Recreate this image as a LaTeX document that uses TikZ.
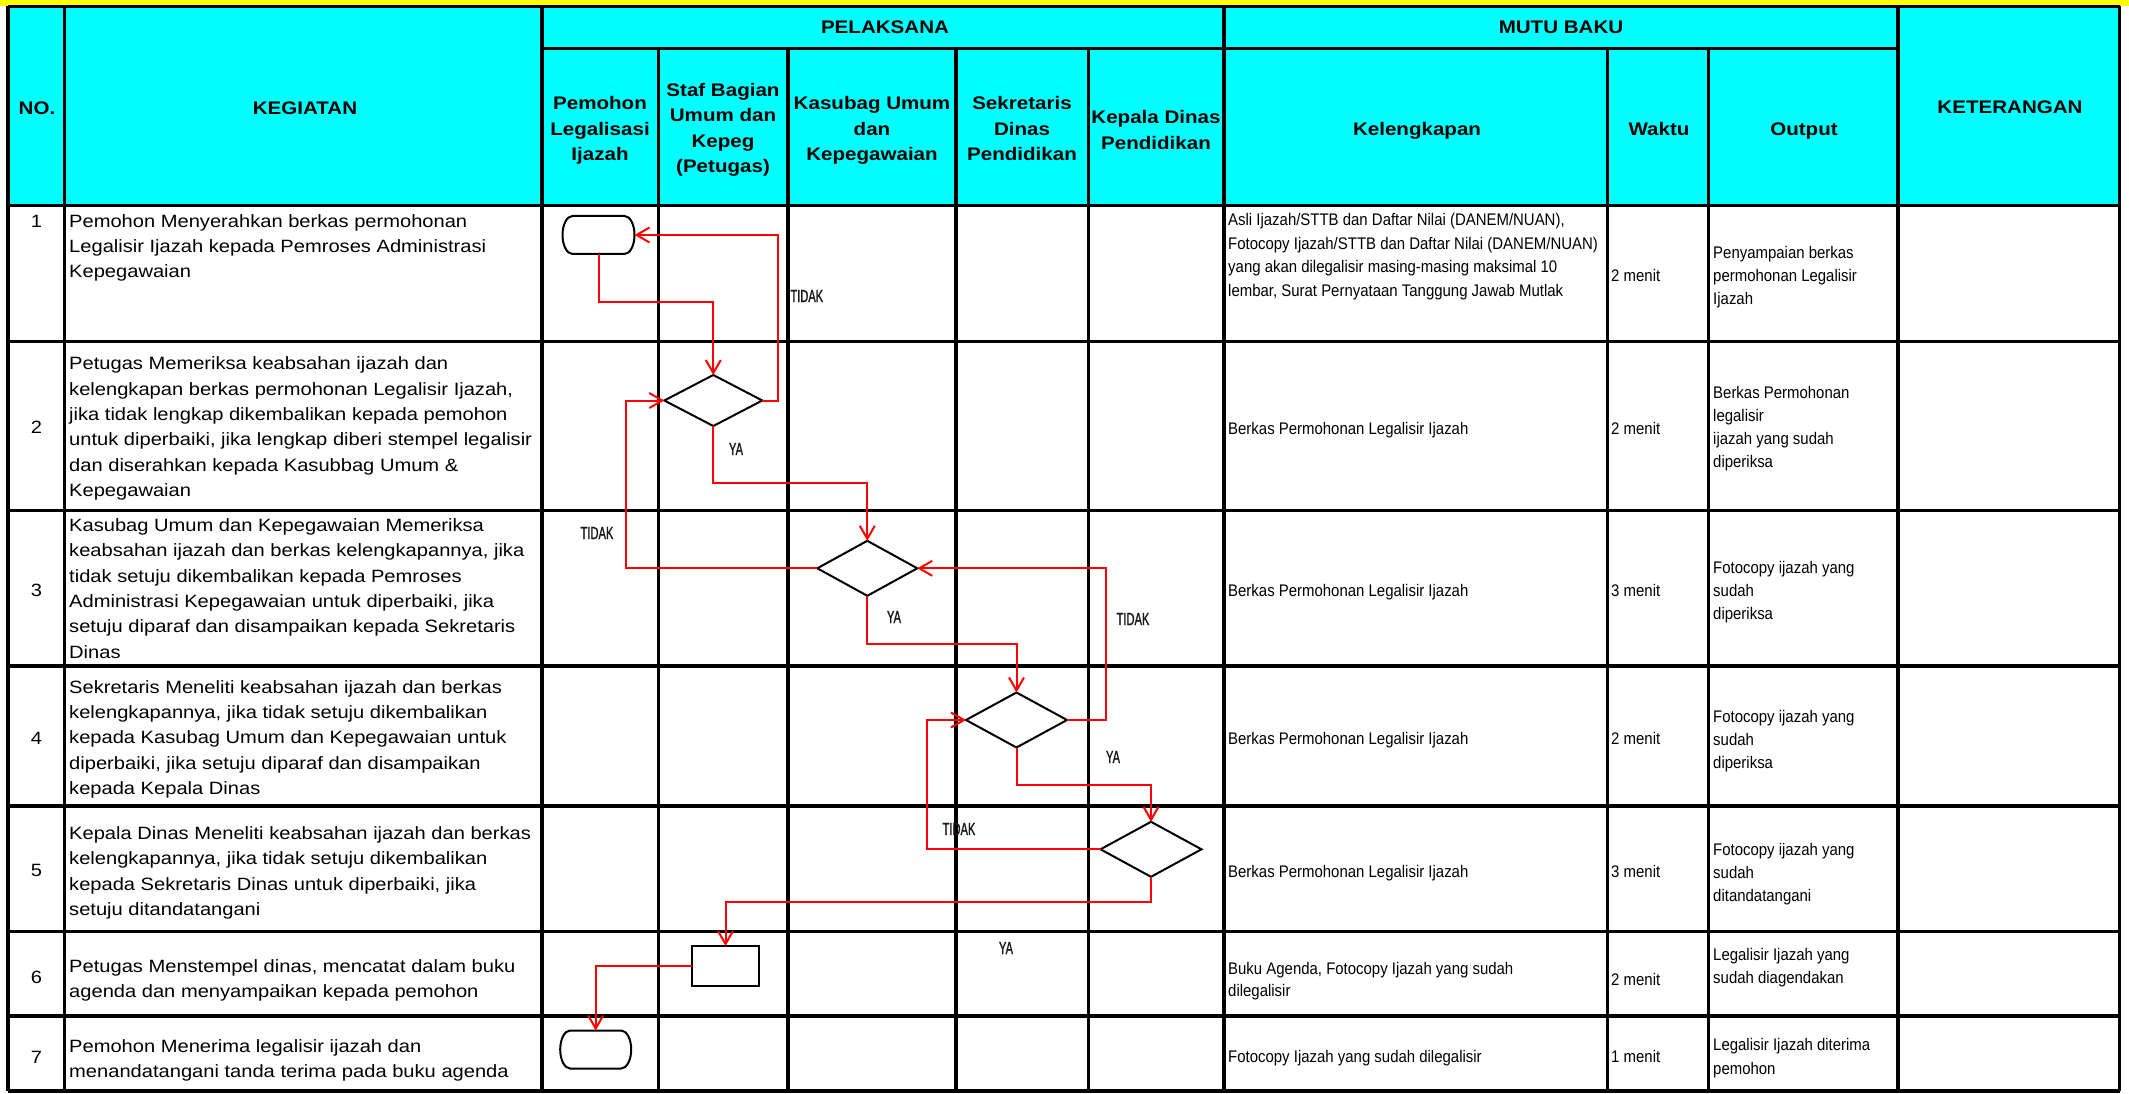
\documentclass[tikz,border=0pt]{standalone}
\usepackage{fontspec}
\setmainfont{Liberation Sans}
\newfontfamily\bodyf[FakeStretch=1.13]{Liberation Sans}
\newfontfamily\smallf[FakeStretch=0.89]{Liberation Sans}
\newfontfamily\condf[FakeStretch=0.63,FakeBold=1.2]{Liberation Sans}
\usetikzlibrary{shapes.geometric,arrows.meta}
\definecolor{hcyan}{HTML}{00FFFF}
\definecolor{hyellow}{HTML}{FFFF00}
\definecolor{flowred}{HTML}{FF0000}
\newcommand{\termoutline}[1]{\draw[line width=2pt] ([xshift=10pt]#1.north west) -- ([xshift=-10pt]#1.north east) arc[start angle=90,end angle=-90,x radius=10pt,y radius=19pt] -- ([xshift=10pt]#1.south west) arc[start angle=270,end angle=90,x radius=10pt,y radius=19pt] -- cycle;}
\tikzset{
  gridline/.style={line width=3.5pt},
  hdr/.style={font=\bodyf\bfseries\fontsize{18.2}{25.6}\selectfont, align=center, anchor=north, inner sep=0pt},
  keg/.style={font=\bodyf\fontsize{17.8}{25.3}\selectfont, align=left, anchor=north west, inner sep=0pt},
  num/.style={font=\bodyf\fontsize{17.8}{25.3}\selectfont, anchor=north, inner sep=0pt},
  sm/.style={font=\smallf\fontsize{16.8}{23.5}\selectfont, align=left, anchor=north west, inner sep=0pt},
  outp/.style={font=\smallf\fontsize{16.8}{23}\selectfont, align=left, anchor=north west, inner sep=0pt},
  lbl/.style={font=\condf\fontsize{17.7}{20}\selectfont, text=black!90, inner sep=0pt},
  dia/.style={diamond, draw, line width=2pt, inner sep=0pt, outer sep=0pt, minimum width=100pt, minimum height=55pt},
  term/.style={rectangle, inner sep=0pt, outer sep=0pt, minimum width=72pt, minimum height=38pt},
  procbox/.style={rectangle, draw, line width=2pt, inner sep=0pt, outer sep=0pt, minimum width=67pt, minimum height=40pt},
  flow/.style={draw=flowred, line width=2pt, -{Straight Barb[length=13pt,width=15pt]}}
}
\begin{document}
\begin{tikzpicture}[x=1pt,y=-1pt]
\useasboundingbox (0,0) rectangle (2129,1094);
% backgrounds
\fill[hyellow] (0,0) rectangle (2129,6.5);
\fill[hcyan] (8,6.5) rectangle (2119.5,205.7);
% horizontal grid lines
\foreach \yy in {6.5,205.7,341.7,510.5,665.8,806,931.7,1015.8,1091}
  \draw[gridline] (8,\yy) -- (2119.5,\yy);
\draw[gridline] (542,48.3) -- (1898,48.3);
% vertical grid lines
\foreach \xx in {8,64.7,542,1224,1898,2119.5}
  \draw[gridline] (\xx,6.5) -- (\xx,1091);
\foreach \xx in {658.5,788,955.8,1088.5,1607.5,1708.5}
  \draw[gridline] (\xx,48.3) -- (\xx,1091);

% header texts
\node[hdr] (hno) at (37,96.3) {\strut NO.\strut};
\node[hdr] (hkeg) at (305,96.3) {\strut KEGIATAN\strut};
\node[hdr] (hpel) at (885,15.3) {\strut PELAKSANA\strut};
\node[hdr] (hmutu) at (1561,15.3) {\strut MUTU BAKU\strut};
\node[hdr] (hket) at (2010,95.3) {\strut KETERANGAN\strut};
\node[hdr] (hpem) at (600,91.6) {\strut Pemohon\\Legalisasi\\Ijazah\strut};
\node[hdr] (hstaf) at (723,77.9) {\strut Staf Bagian\\Umum dan\\Kepeg\\(Petugas)\strut};
\node[hdr] (hkas) at (872,91.6) {\strut Kasubag Umum\\dan\\Kepegawaian\strut};
\node[hdr] (hsek) at (1022,91.6) {\strut Sekretaris\\Dinas\\Pendidikan\strut};
\node[hdr] (hkep) at (1156,105.3) {\strut Kepala Dinas\\Pendidikan\strut};
\node[hdr] (hkel) at (1417,116.9) {\strut Kelengkapan\strut};
\node[hdr] (hwak) at (1659,116.9) {\strut Waktu\strut};
\node[hdr] (hout) at (1804,116.9) {\strut Output\strut};

% numbers
\node[num] (n1) at (36.5,209.4) {\strut 1\strut};
\node[num] (n2) at (36.5,415.4) {\strut 2\strut};
\node[num] (n3) at (36.5,578.7) {\strut 3\strut};
\node[num] (n4) at (36.5,726.4) {\strut 4\strut};
\node[num] (n5) at (36.5,858.7) {\strut 5\strut};
\node[num] (n6) at (36.5,965.4) {\strut 6\strut};
\node[num] (n7) at (36.5,1045.4) {\strut 7\strut};

% kegiatan
\node[keg] (k1) at (69,209.4) {\strut Pemohon Menyerahkan berkas permohonan\\Legalisir Ijazah kepada Pemroses Administrasi\\Kepegawaian\strut};
\node[keg] (k2) at (69,352) {\strut Petugas Memeriksa keabsahan ijazah dan\\kelengkapan berkas permohonan Legalisir Ijazah,\\jika tidak lengkap dikembalikan kepada pemohon\\untuk diperbaiki, jika lengkap diberi stempel legalisir\\dan diserahkan kepada Kasubbag Umum \&\\Kepegawaian\strut};
\node[keg] (k3) at (69,513.7) {\strut Kasubag Umum dan Kepegawaian Memeriksa\\keabsahan ijazah dan berkas kelengkapannya, jika\\tidak setuju dikembalikan kepada Pemroses\\Administrasi Kepegawaian untuk diperbaiki, jika\\setuju diparaf dan disampaikan kepada Sekretaris\\Dinas\strut};
\node[keg] (k4) at (69,675.4) {\strut Sekretaris Meneliti keabsahan ijazah dan berkas\\kelengkapannya, jika tidak setuju dikembalikan\\kepada Kasubag Umum dan Kepegawaian untuk\\diperbaiki, jika setuju diparaf dan disampaikan\\kepada Kepala Dinas\strut};
\node[keg] (k5) at (69,821.7) {\strut Kepala Dinas Meneliti keabsahan ijazah dan berkas\\kelengkapannya, jika tidak setuju dikembalikan\\kepada Sekretaris Dinas untuk diperbaiki, jika\\setuju ditandatangani\strut};
\node[keg] (k6) at (69,954.1) {\strut Petugas Menstempel dinas, mencatat dalam buku\\agenda dan menyampaikan kepada pemohon\strut};
\node[keg] (k7) at (69,1034.4) {\strut Pemohon Menerima legalisir ijazah dan\\menandatangani tanda terima pada buku agenda\strut};

% kelengkapan
\node[sm] (l1) at (1228,208.9) {\strut Asli Ijazah/STTB dan Daftar Nilai (DANEM/NUAN),\\Fotocopy Ijazah/STTB dan Daftar Nilai (DANEM/NUAN)\\yang akan dilegalisir masing-masing maksimal 10\\lembar, Surat Pernyataan Tanggung Jawab Mutlak\strut};
\node[sm] (l2) at (1228,417.9) {\strut Berkas Permohonan Legalisir Ijazah\strut};
\node[sm] (l3) at (1228,579.6) {\strut Berkas Permohonan Legalisir Ijazah\strut};
\node[sm] (l4) at (1228,727.9) {\strut Berkas Permohonan Legalisir Ijazah\strut};
\node[sm] (l5) at (1228,860.6) {\strut Berkas Permohonan Legalisir Ijazah\strut};
\node[sm, font=\smallf\fontsize{16.8}{22}\selectfont] (l6) at (1228,958.9) {\strut Buku Agenda, Fotocopy Ijazah yang sudah\\dilegalisir\strut};
\node[sm] (l7) at (1228,1046.3) {\strut Fotocopy Ijazah yang sudah dilegalisir\strut};

% waktu
\node[sm] (w1) at (1611,264.6) {\strut 2 menit\strut};
\node[sm] (w2) at (1611,417.9) {\strut 2 menit\strut};
\node[sm] (w3) at (1611,579.6) {\strut 3 menit\strut};
\node[sm] (w4) at (1611,727.9) {\strut 2 menit\strut};
\node[sm] (w5) at (1611,860.6) {\strut 3 menit\strut};
\node[sm] (w6) at (1611,968.6) {\strut 2 menit\strut};
\node[sm] (w7) at (1611,1046.3) {\strut 1 menit\strut};

% output
\node[outp] (o1) at (1713,242.2) {\strut Penyampaian berkas\\permohonan Legalisir\\Ijazah\strut};
\node[outp] (o2) at (1713,382.2) {\strut Berkas Permohonan\\legalisir\\ijazah yang sudah\\diperiksa\strut};
\node[outp] (o3) at (1713,557.6) {\strut Fotocopy ijazah yang\\sudah\\diperiksa\strut};
\node[outp] (o4) at (1713,706.6) {\strut Fotocopy ijazah yang\\sudah\\diperiksa\strut};
\node[outp] (o5) at (1713,838.9) {\strut Fotocopy ijazah yang\\sudah\\ditandatangani\strut};
\node[outp] (o6) at (1713,944.2) {\strut Legalisir Ijazah yang\\sudah diagendakan\strut};
\node[outp, font=\smallf\fontsize{16.8}{24}\selectfont] (o7) at (1713,1033.5) {\strut Legalisir Ijazah diterima\\pemohon\strut};

% flow shapes
\node[term] (t1) at (598.5,235) {};
\termoutline{t1}
\node[dia, minimum width=98pt, minimum height=51pt] (d1) at (713.3,400.5) {};
\node[dia] (d2) at (867.3,568.3) {};
\node[dia, minimum width=101pt] (d3) at (1016.5,720) {};
\node[dia, minimum width=101pt] (d4) at (1151,849.3) {};
\node[procbox] (b6) at (725.5,966) {};
\node[term, minimum width=71pt] (t7) at (595.7,1049.5) {};
\termoutline{t7}

% connectors
\draw[flow] (t1.south) -- ++(0,47.7) -| (d1.north);
\draw[flow] (d1.east) -- ++(15.2,0) |- (t1.east);
\draw[flow] (d1.south) -- ++(0,57.3) -| (d2.north);
\draw[flow] (d2.west) -- ++(-191.1,0) |- (d1.west);
\draw[flow] (d2.south) -- ++(0,48.3) -| (d3.north);
\draw[flow] (d3.east) -- ++(38.9,0) |- (d2.east);
\draw[flow] (d3.south) -- ++(0,37.3) -| (d4.north);
\draw[flow] (d4.west) -- ++(-173.2,0) |- (d3.west);
\draw[flow] (d4.south) -- ++(0,25.6) -| (b6.north);
\draw[flow] (b6.west) -| (t7.north);

% labels
\node[lbl] (la1) at (806.8,296) {TIDAK};
\node[lbl] (la2) at (736,449) {YA};
\node[lbl] (la3) at (597,533) {TIDAK};
\node[lbl] (la4) at (894,617) {YA};
\node[lbl] (la5) at (1133,619) {TIDAK};
\node[lbl] (la6) at (1113,757) {YA};
\node[lbl] (la7) at (959,829) {TIDAK};
\node[lbl] (la8) at (1006,948) {YA};
\end{tikzpicture}
\end{document}
